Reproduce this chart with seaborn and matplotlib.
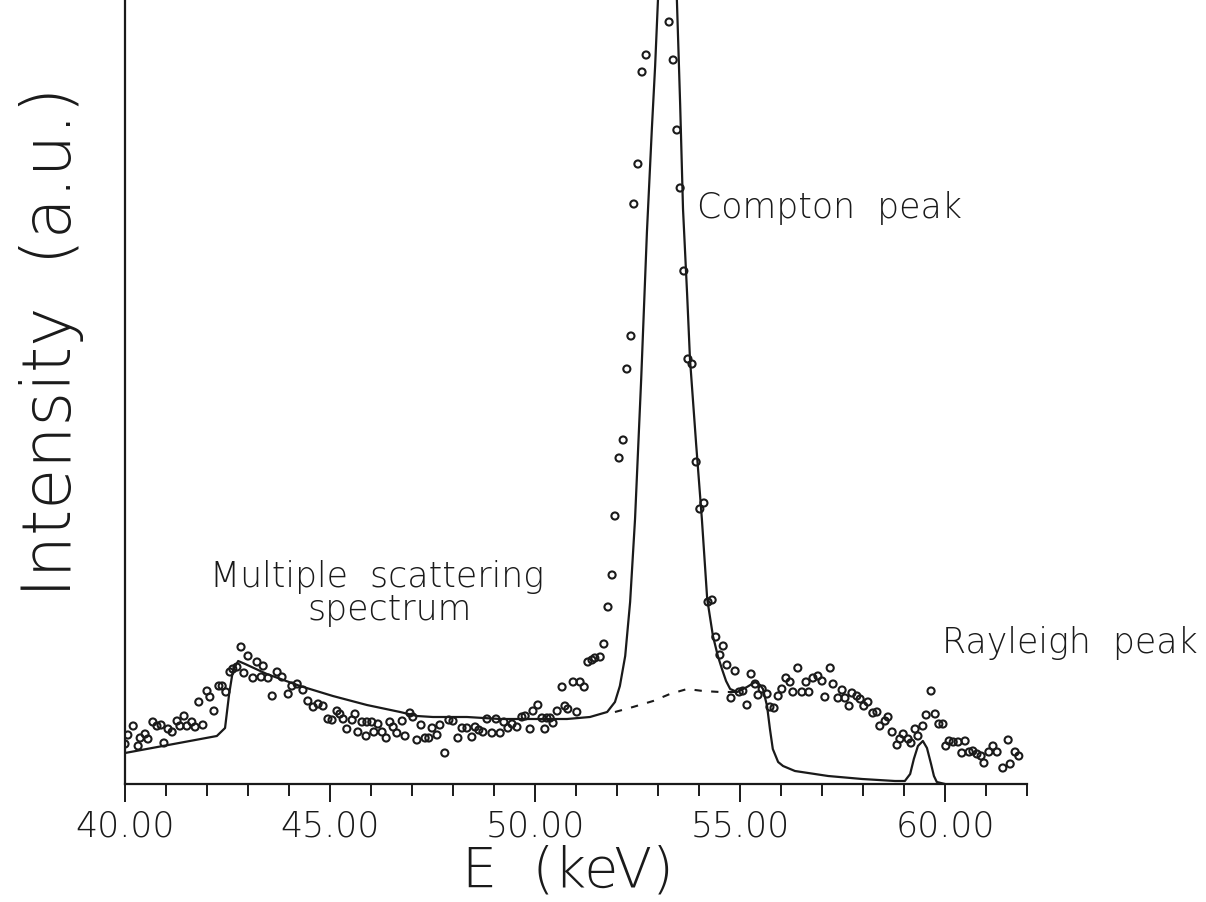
import numpy as np
import pandas as pd
import matplotlib
matplotlib.use("Agg")
import matplotlib.pyplot as plt
import seaborn as sns
from matplotlib.ticker import FixedLocator, MultipleLocator

# ---------------- data ----------------
energy_meas = [
    40.00, 40.07, 40.20, 40.32, 40.37, 40.49, 40.56, 40.68, 40.78, 40.88,
    40.95, 41.05, 41.15, 41.27, 41.34, 41.44, 41.51, 41.63, 41.71, 41.80,
    41.90, 42.00, 42.07, 42.17, 42.29, 42.37, 42.46, 42.56, 42.63, 42.73,
    42.83, 42.90, 43.00, 43.12, 43.22, 43.32, 43.37, 43.49, 43.59, 43.71,
    43.83, 43.98, 44.07, 44.20, 44.34, 44.46, 44.59, 44.71, 44.83, 44.95,
    45.05, 45.17, 45.24, 45.32, 45.41, 45.54, 45.61, 45.68, 45.78, 45.88,
    45.90, 46.02, 46.07, 46.17, 46.27, 46.37, 46.46, 46.54, 46.63, 46.76,
    46.83, 46.95, 47.02, 47.12, 47.22, 47.32, 47.41, 47.49, 47.61, 47.68,
    47.80, 47.90, 48.00, 48.12, 48.22, 48.34, 48.46, 48.54, 48.63, 48.73,
    48.83, 48.95, 49.05, 49.15, 49.24, 49.34, 49.44, 49.56, 49.68, 49.76,
    49.88, 49.95, 50.07, 50.17, 50.24, 50.29, 50.37, 50.44, 50.54, 50.66,
    50.73, 50.80, 50.93, 51.02, 51.10, 51.20, 51.29, 51.39, 51.46, 51.59,
    51.68, 51.78, 51.88, 51.95, 52.05, 52.15, 52.24, 52.34, 52.41, 52.51,
    52.61, 52.71, 53.27, 53.37, 53.46, 53.54, 53.63, 53.73, 53.83, 53.93,
    54.02, 54.12, 54.22, 54.32, 54.41, 54.51, 54.59, 54.68, 54.78, 54.88,
    54.98, 55.07, 55.17, 55.27, 55.37, 55.44, 55.54, 55.66, 55.73, 55.83,
    55.93, 56.02, 56.12, 56.22, 56.29, 56.41, 56.51, 56.61, 56.68, 56.78,
    56.90, 57.00, 57.07, 57.20, 57.27, 57.39, 57.49, 57.56, 57.66, 57.73,
    57.85, 57.93, 58.02, 58.12, 58.24, 58.34, 58.41, 58.54, 58.61, 58.71,
    58.83, 58.90, 58.98, 59.10, 59.17, 59.27, 59.34, 59.46, 59.54, 59.66,
    59.76, 59.85, 59.95, 60.02, 60.10, 60.20, 60.32, 60.41, 60.49, 60.59,
    60.68, 60.78, 60.88, 60.95, 61.07, 61.17, 61.27, 61.41, 61.54, 61.59,
    61.71, 61.80,
]
intensity_meas = [
    40, 49, 58, 38, 46, 50, 45, 62, 58, 59,
    41, 55, 52, 63, 58, 68, 58, 62, 57, 82,
    59, 93, 87, 73, 98, 98, 92, 112, 115, 117,
    137, 111, 128, 106, 122, 107, 118, 106, 88, 112,
    107, 90, 98, 100, 94, 83, 77, 80, 78, 65,
    64, 73, 70, 65, 55, 64, 70, 52, 62, 48,
    62, 62, 52, 60, 52, 46, 62, 57, 51, 63,
    48, 71, 67, 44, 59, 46, 46, 56, 49, 59,
    31, 64, 63, 46, 56, 56, 47, 57, 54, 52,
    65, 51, 65, 51, 62, 56, 60, 57, 67, 68,
    55, 73, 79, 66, 55, 66, 66, 61, 73, 97,
    78, 75, 102, 72, 102, 97, 122, 124, 126, 127,
    140, 177, 209, 268, 326, 344, 415, 448, 580, 620,
    712, 729, 762, 724, 654, 596, 513, 425, 420, 322,
    275, 281, 182, 184, 147, 129, 138, 119, 86, 113,
    92, 93, 79, 110, 100, 89, 95, 90, 77, 76,
    88, 95, 106, 102, 92, 116, 92, 102, 92, 106,
    108, 103, 87, 116, 100, 86, 94, 86, 78, 91,
    88, 85, 78, 82, 71, 72, 58, 63, 67, 52,
    39, 45, 50, 45, 41, 55, 48, 58, 69, 93,
    70, 60, 60, 38, 43, 42, 42, 31, 43, 32,
    33, 30, 28, 21, 32, 38, 32, 16, 44, 20,
    32, 28,
]

energy_fit = [
    40.00, 42.24, 42.44, 42.54, 42.63, 42.76, 42.93, 43.46, 44.27, 45.07,
    45.90, 46.71, 47.12, 47.51, 48.34, 49.15, 50.78, 51.34, 51.76, 51.95,
    52.07, 52.20, 52.32, 52.44, 52.59, 52.73, 52.85, 52.93, 53.00, 53.10,
    53.22, 53.34, 53.46, 53.54, 53.61, 53.71, 53.78, 53.93, 54.07, 54.20,
    54.34, 54.46, 54.56, 54.66, 54.76, 54.93, 55.17, 55.37, 55.49, 55.56,
    55.66, 55.73, 55.80, 55.93, 56.05, 56.34, 57.15, 57.98, 58.78, 59.02,
    59.15, 59.24, 59.34, 59.46, 59.56, 59.66, 59.73, 59.80, 60.00,
]
intensity_fit = [
    31, 48, 56, 90, 113, 123, 120, 110, 98, 88,
    79, 72, 68, 67, 67, 65, 65, 67, 72, 82,
    98, 128, 182, 265, 405, 552, 655, 718, 785, 850,
    880, 850, 785, 680, 575, 490, 425, 340, 265, 185,
    148, 128, 115, 103, 95, 92, 97, 102, 99, 95,
    78, 55, 35, 22, 18, 13, 8, 5, 3, 3,
    10, 25, 38, 43, 36, 20, 8, 2, 0,
]

energy_base = [51.95, 52.39, 52.88, 53.29, 53.71, 54.10, 54.51, 54.88]
intensity_base = [72, 77, 83, 90, 95, 93, 92, 92]

major_ticks = [40, 45, 50, 55, 60]
tick_labels = ["40.00", "45.00", "50.00", "55.00", "60.00"]

# ---------------- style ----------------
sns.set_style("ticks")
plt.rcParams["font.family"] = ["DejaVu Sans"]
ink = "#1a1a1a"
W = "light"

fig = plt.figure(figsize=(12.06, 9.03), dpi=100)
ax = fig.add_axes([125 / 1206, 1 - 785 / 903, 902 / 1206, 785 / 903])

meas = pd.DataFrame({"E": energy_meas, "I": intensity_meas})
fit = pd.DataFrame({"E": energy_fit, "I": intensity_fit})
base = pd.DataFrame({"E": energy_base, "I": intensity_base})

sns.lineplot(data=fit, x="E", y="I", ax=ax, sort=False, estimator=None,
             color=ink, linewidth=1.6, zorder=2)
sns.lineplot(data=base, x="E", y="I", ax=ax, sort=False, estimator=None,
             color=ink, linewidth=1.5, linestyle="--", zorder=2)
ax.lines[-1].set_dashes([3.5, 4.5])
sns.scatterplot(data=meas, x="E", y="I", ax=ax, marker="o", s=26,
                facecolor="none", edgecolor=ink, linewidth=1.5, zorder=3)
for coll in ax.collections:
    coll.set_facecolor("none")
    coll.set_edgecolor(ink)

ax.set_xlim(40, 62)
ax.set_ylim(0, 785)
ax.set_yticks([])
ax.xaxis.set_major_locator(FixedLocator(major_ticks))
ax.set_xticklabels(tick_labels)
ax.xaxis.set_minor_locator(MultipleLocator(1))
ax.tick_params(axis="x", which="major", direction="out", length=13, width=1.4,
               labelsize=25, pad=5, colors=ink)
ax.tick_params(axis="x", which="minor", direction="out", length=8.5, width=1.4,
               colors=ink)
for lab in ax.get_xticklabels():
    lab.set_fontweight(W)
ax.set_xlabel("")
ax.set_ylabel("")
sns.despine(ax=ax, top=True, right=True)
for sp in ("left", "bottom"):
    ax.spines[sp].set_linewidth(1.6)
    ax.spines[sp].set_color(ink)

# annotations
txt = dict(color=ink, fontweight=W, fontsize=25)
ax.text(53.95, 577, "Compton  peak", ha="left", va="center", **txt)
ax.text(46.15, 208, "Multiple  scattering", ha="center", va="center", **txt)
ax.text(46.46, 175, "spectrum", ha="center", va="center", **txt)
ax.text(59.93, 142, "Rayleigh  peak", ha="left", va="center", clip_on=False, **txt)

fig.text(52 / 1206, 1 - 342 / 903, "Intensity  (a.u.)", rotation=90,
         ha="center", va="center", fontsize=48, color=ink, fontweight=W)
fig.text(568 / 1206, 1 - 872 / 903, "E  (keV)", ha="center", va="center",
         fontsize=40, color=ink, fontweight=W)

fig.savefig("out.png", dpi=100, facecolor="white")
